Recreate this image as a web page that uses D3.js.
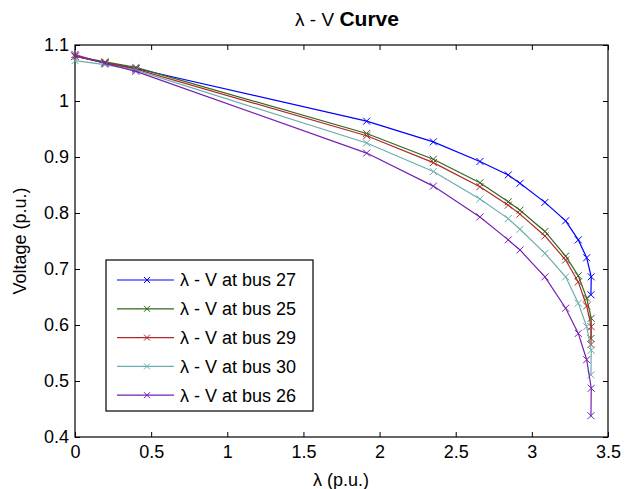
<!DOCTYPE html>
<html>
<head>
<meta charset="utf-8">
<script src="https://cdn.jsdelivr.net/npm/d3@7"></script>
<style>
  body { margin: 0; background: #fff; }
  text { font-family: "Liberation Sans", Arial, sans-serif; fill: #000; }
</style>
</head>
<body>
<div id="chart"></div>
<script>
// continuation steps (lambda, p.u.) shared by every bus
var lambda = [0, 0.197, 0.40, 1.915, 2.353, 2.659, 2.845, 2.922, 3.086, 3.222, 3.305, 3.36, 3.39, 3.388];

var bus27 = [1.080, 1.068, 1.058, 0.964, 0.927, 0.892, 0.868, 0.853, 0.819, 0.786, 0.752, 0.720, 0.686, 0.654];
var bus25 = [1.080, 1.070, 1.060, 0.942, 0.896, 0.854, 0.820, 0.805, 0.767, 0.723, 0.688, 0.648, 0.612, 0.576];
var bus29 = [1.080, 1.068, 1.057, 0.938, 0.890, 0.847, 0.814, 0.798, 0.759, 0.716, 0.677, 0.634, 0.597, 0.565];
var bus30 = [1.072, 1.065, 1.055, 0.925, 0.874, 0.825, 0.790, 0.771, 0.728, 0.686, 0.639, 0.597, 0.555, 0.511];
var bus26 = [1.083, 1.067, 1.053, 0.907, 0.848, 0.793, 0.752, 0.734, 0.686, 0.630, 0.585, 0.538, 0.487, 0.438];

var seriesNames = ["λ - V at bus 27", "λ - V at bus 25", "λ - V at bus 29", "λ - V at bus 30", "λ - V at bus 26"];
var seriesValues = [bus27, bus25, bus29, bus30, bus26];
var seriesColors = ["#0000ff", "#35661c", "#b02828", "#6aaeae", "#7420b5"];

var xTicks = [0, 0.5, 1, 1.5, 2, 2.5, 3, 3.5];
var yTicks = [0.4, 0.5, 0.6, 0.7, 0.8, 0.9, 1, 1.1];

var width = 633, height = 489;
var margin = {top: 45, right: 25, bottom: 52, left: 75};
var fontSize = "18px";

var svg = d3.select("#chart").append("svg")
    .attr("width", width)
    .attr("height", height);

var x = d3.scaleLinear().domain([0, 3.5]).range([margin.left, width - margin.right]);
var y = d3.scaleLinear().domain([0.4, 1.1]).range([height - margin.bottom, margin.top]);

// axes, MATLAB style: ticks inside on all four sides
function styleAxis(g) {
    g.select(".domain").remove();
    g.selectAll(".tick line").attr("stroke", "#000");
    g.selectAll(".tick text").style("font-size", fontSize);
}

svg.append("g")
    .attr("transform", `translate(0,${y(0.4)})`)
    .call(d3.axisBottom(x).tickValues(xTicks).tickSize(-5).tickPadding(8).tickFormat(d3.format("")))
    .call(styleAxis);
svg.append("g")
    .attr("transform", `translate(0,${y(1.1)})`)
    .call(d3.axisTop(x).tickValues(xTicks).tickSize(-5).tickFormat(""))
    .call(styleAxis);
svg.append("g")
    .attr("transform", `translate(${x(0)},0)`)
    .call(d3.axisLeft(y).tickValues(yTicks).tickSize(-5).tickPadding(6).tickFormat(d3.format("")))
    .call(styleAxis);
svg.append("g")
    .attr("transform", `translate(${x(3.5)},0)`)
    .call(d3.axisRight(y).tickValues(yTicks).tickSize(-5).tickFormat(""))
    .call(styleAxis);

svg.append("rect")
    .attr("x", x(0)).attr("y", y(1.1))
    .attr("width", x(3.5) - x(0)).attr("height", y(0.4) - y(1.1))
    .attr("fill", "none").attr("stroke", "#000").attr("stroke-width", 1.2);

// curves
var line = d3.line()
    .x(function (d, i) { return x(lambda[i]); })
    .y(function (d) { return y(d); });

function cross(sel, s) {
    sel.append("path")
        .attr("d", `M${-s},${-s}L${s},${s}M${-s},${s}L${s},${-s}`)
        .attr("fill", "none")
        .attr("stroke-width", 1);
}

seriesValues.forEach(function (vals, k) {
    var g = svg.append("g").attr("stroke", seriesColors[k]);
    g.append("path")
        .datum(vals)
        .attr("d", line)
        .attr("fill", "none")
        .attr("stroke-width", 1.2);
    g.selectAll("g.mk")
        .data(vals).enter().append("g")
        .attr("class", "mk")
        .attr("transform", function (d, i) { return `translate(${x(lambda[i])},${y(d)})`; })
        .each(function () { cross(d3.select(this), 3.5); });
});

// legend
var legend = svg.append("g").attr("transform", "translate(106,260)");
legend.append("rect")
    .attr("width", 207).attr("height", 151)
    .attr("fill", "#fff").attr("stroke", "#000").attr("stroke-width", 1.2);
seriesNames.forEach(function (name, k) {
    var row = legend.append("g").attr("transform", `translate(0,${20 + k * 28.8})`);
    row.append("line")
        .attr("x1", 11).attr("x2", 68)
        .attr("stroke", seriesColors[k]).attr("stroke-width", 1.2);
    var mk = row.append("g").attr("transform", "translate(41,0)").attr("stroke", seriesColors[k]);
    cross(mk, 3);
    row.append("text")
        .attr("x", 74).attr("dy", "0.35em")
        .style("font-size", fontSize)
        .text(name);
});

// title and labels
var title = svg.append("text")
    .attr("x", 347).attr("y", 26)
    .attr("text-anchor", "middle")
    .style("font-size", "19px");
title.append("tspan").text("λ - V  ");
title.append("tspan").style("font-weight", "bold").style("font-size", "21px").text("Curve");

svg.append("text")
    .attr("x", 341).attr("y", 486)
    .attr("text-anchor", "middle")
    .style("font-size", fontSize)
    .text("λ (p.u.)");

svg.append("text")
    .attr("transform", `translate(26,${(y(0.4) + y(1.1)) / 2}) rotate(-90)`)
    .attr("text-anchor", "middle")
    .style("font-size", fontSize)
    .text("Voltage (p.u.)");
</script>
</body>
</html>
